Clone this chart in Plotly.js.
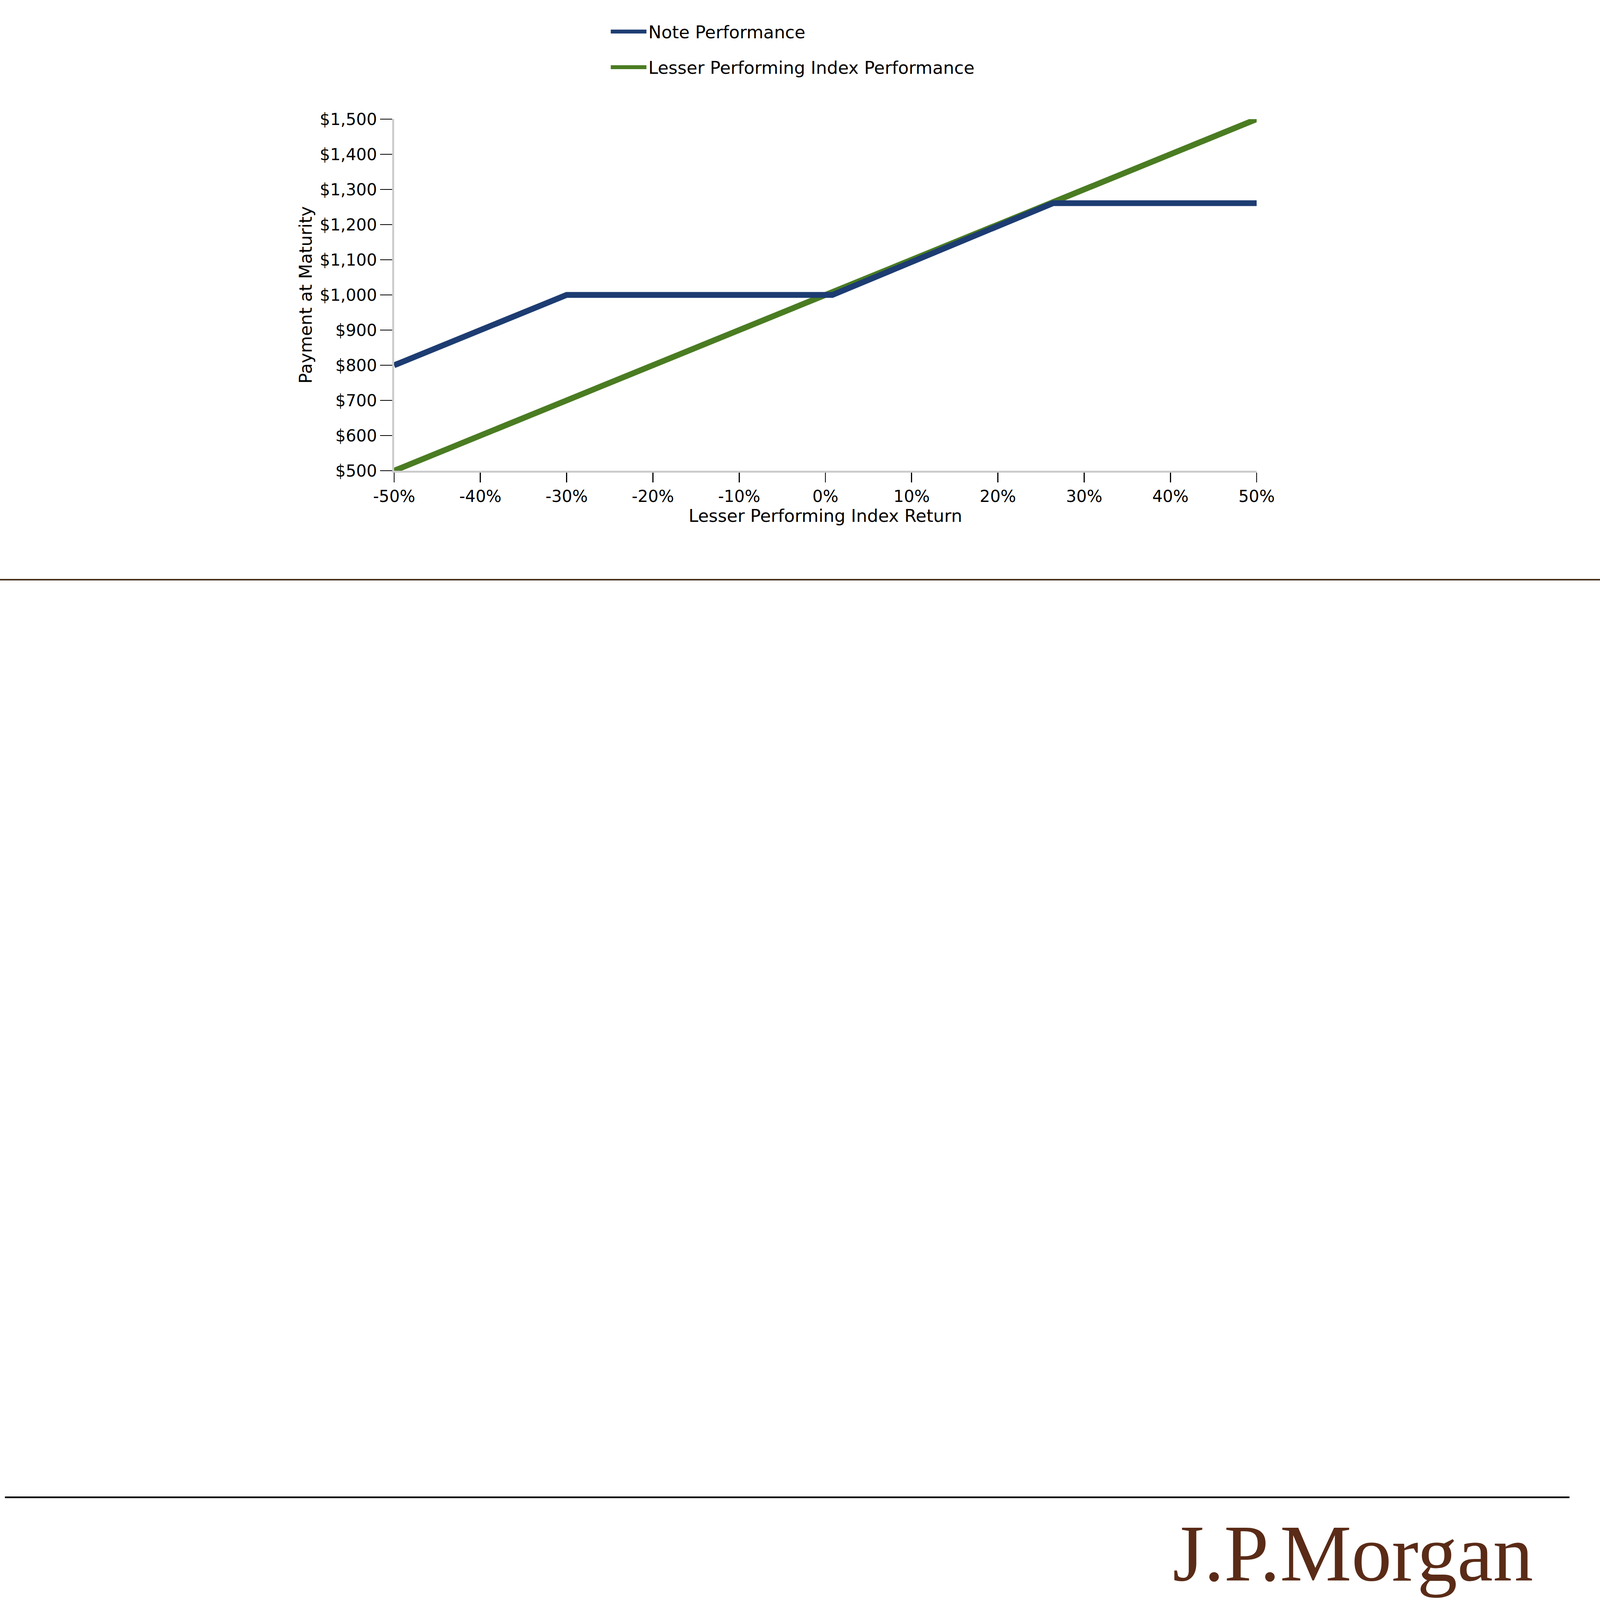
<!DOCTYPE html>
<html><head><meta charset="utf-8">
<script src="https://cdn.plot.ly/plotly-3.0.1.min.js"></script>
<style>html,body{margin:0;padding:0;background:#fff;overflow:hidden}#chart{position:absolute;left:0;top:0}</style>
</head><body><div id="chart"></div>
<script>
// ---- data ----
const indexReturn = [-50, 50];
const indexPayment = [500, 1500];
const noteReturn = [-50, -30, 0.8, 26.4, 50];
const notePayment = [800, 1000, 1000, 1261, 1261];
const xTickVals = [-50, -40, -30, -20, -10, 0, 10, 20, 30, 40, 50];
const xTickText = ['-50%', '-40%', '-30%', '-20%', '-10%', '0%', '10%', '20%', '30%', '40%', '50%'];
const yTickVals = [500, 600, 700, 800, 900, 1000, 1100, 1200, 1300, 1400, 1500];
const yTickText = ['$500', '$600', '$700', '$800', '$900', '$1,000', '$1,100', '$1,200', '$1,300', '$1,400', '$1,500'];
const seriesNames = ['Note Performance', 'Lesser Performing Index Performance'];
const xTitle = 'Lesser Performing Index Return';
const yTitle = 'Payment at Maturity';
const logoText = 'J.P.Morgan';

// ---- page geometry (reference px, mapped onto the actual window) ----
const W0 = 5427, H0 = 6782;
const vw = window.innerWidth || document.documentElement.clientWidth || W0;
const vh = window.innerHeight || document.documentElement.clientHeight || H0;
const sx = vw / W0, sy = vh / H0, sf = Math.sqrt(sx * sy);
const W = vw, H = vh;
const L = 1337, R = 4262, T = 505, B = 1995;
const px2x = p => (p - L) / (R - L);
const py2y = p => (B - p) / (B - T);
const F = v => v * sf;

const FONT = 'DejaVu Sans, Verdana, sans-serif';
const BLUE = '#1d3c72', GREEN = '#4a7c22';

const traces = [
  {x: indexReturn, y: indexPayment, type: 'scatter', mode: 'lines', name: seriesNames[1],
   line: {color: GREEN, width: F(22)}, cliponaxis: false, legend: 'legend2', hoverinfo: 'skip', showlegend: true},
  {x: noteReturn, y: notePayment, type: 'scatter', mode: 'lines', name: seriesNames[0],
   line: {color: BLUE, width: F(22)}, cliponaxis: false, legend: 'legend', hoverinfo: 'skip', showlegend: true}
];

const axisCommon = {
  showgrid: false, zeroline: false, showline: true, linecolor: '#cccccc', linewidth: F(8),
  ticks: 'outside', tickwidth: F(4), tickcolor: '#000',
  tickfont: {family: FONT, size: F(62), color: '#000'}, tickmode: 'array'
};

const legendCommon = {xanchor: 'left', yanchor: 'middle', itemwidth: Math.max(30, 121 * sx),
  font: {family: FONT, size: F(66), color: '#000'}, bgcolor: 'rgba(0,0,0,0)', borderwidth: 0};

const layout = {
  width: W, height: H, showlegend: true,
  paper_bgcolor: '#fff', plot_bgcolor: '#fff',
  margin: {l: L * sx, r: (W0 - R) * sx, t: T * sy, b: (H0 - B) * sy, pad: 0},
  font: {family: FONT, size: F(64), color: '#000'},
  xaxis: Object.assign({}, axisCommon, {range: [-50, 50], tickvals: xTickVals, ticktext: xTickText, ticklen: 40 * sy,
    title: {text: xTitle, font: {family: FONT, size: F(66), color: '#000'}, standoff: 8 * sy}}),
  yaxis: Object.assign({}, axisCommon, {range: [500, 1500], tickvals: yTickVals, ticktext: yTickText, ticklen: 40 * sx,
    title: {text: yTitle, font: {family: FONT, size: F(66), color: '#000'}, standoff: 10 * sx}}),
  legend: Object.assign({}, legendCommon, {x: px2x(2065), y: py2y(134)}),
  legend2: Object.assign({}, legendCommon, {x: px2x(2065), y: py2y(285)}),
  shapes: [
    {type: 'line', xref: 'paper', yref: 'paper', x0: px2x(0), x1: px2x(W0), y0: py2y(2457), y1: py2y(2457),
     line: {color: '#4b3320', width: F(6)}},
    {type: 'line', xref: 'paper', yref: 'paper', x0: px2x(17), x1: px2x(5323), y0: py2y(6346), y1: py2y(6346),
     line: {color: '#000', width: F(6)}}
  ],
  annotations: [
    {xref: 'paper', yref: 'paper', x: px2x(4588), y: py2y(6585), xanchor: 'center', yanchor: 'middle',
     text: logoText, showarrow: false,
     font: {family: 'Liberation Serif, Times New Roman, serif', size: F(305), color: '#5a2b17'}}
  ]
};

document.getElementById('chart').style.width = W + 'px';
document.getElementById('chart').style.height = H + 'px';
Plotly.newPlot('chart', traces, layout, {staticPlot: true, displayModeBar: false});
</script>
</body></html>
